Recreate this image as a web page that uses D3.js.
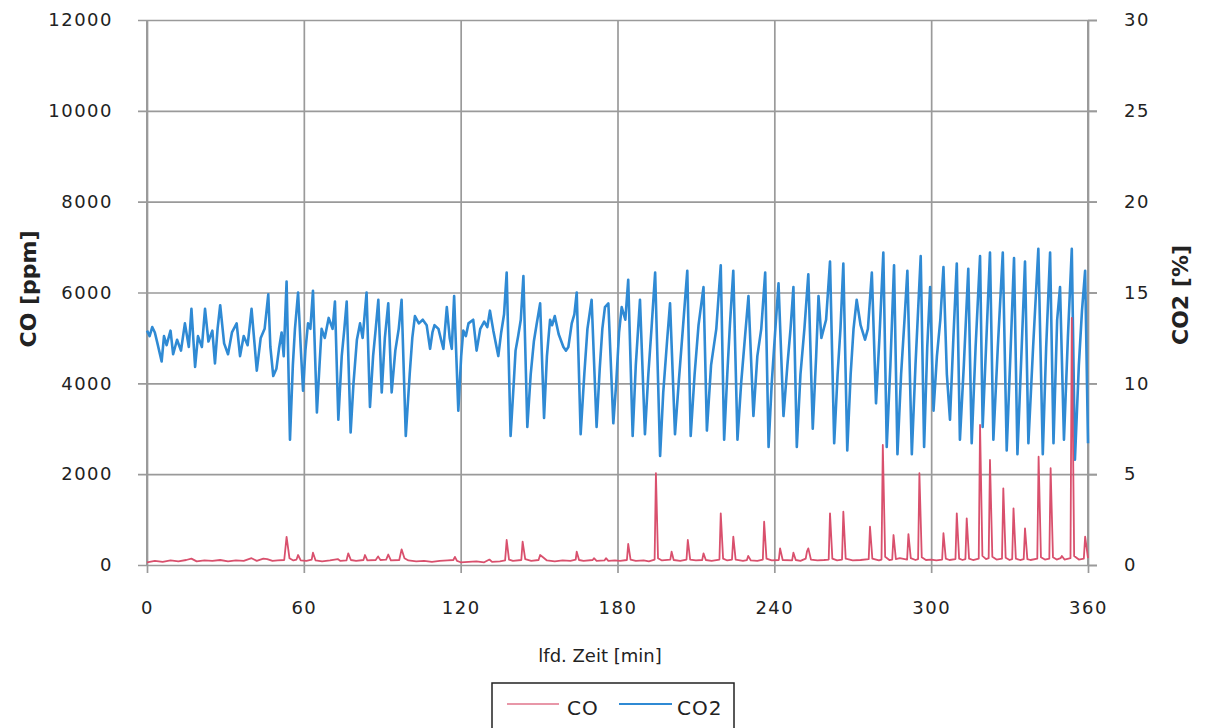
<!DOCTYPE html>
<html>
<head>
<meta charset="utf-8">
<script src="https://cdn.jsdelivr.net/npm/d3@7"></script>
<style>
	body { margin: 0; background: #fff; }
	text { font-family: "DejaVu Sans", sans-serif; fill: #222; }
	.tickLabel { font-size: 18px; letter-spacing: 1.5px; }
</style>
</head>
<body>
<svg id="gasGraph"></svg>
<script>
// time axis [min]
var xTicks = [0, 60, 120, 180, 240, 300, 360];
var coTicks = [0, 2000, 4000, 6000, 8000, 10000, 12000];
var co2Ticks = [0, 5, 10, 15, 20, 25, 30];

// CO2 [%] (minute, value)
var co2Time = [0, 1, 2, 3, 4, 5.6, 6.5, 7.5, 9, 10, 11.5, 13, 14.5, 16, 17, 18.4, 19.5, 21, 22.2, 23.5, 25, 26, 27, 28, 29.5, 31, 32.5, 34.3, 35.6, 37, 38.5, 40, 41, 42, 43.5, 45, 46.4, 47.2, 48.3, 49.5, 50.5, 51.5, 52.3,
	53.4, 54.7, 55.8, 56.6, 57.8, 58.8, 59.7, 60.6, 61.6, 62.5, 63.5, 65, 66, 66.8, 68, 69.5, 71, 71.9, 73.2, 74.5, 75.5, 76.4, 77.9, 79, 80.3, 81.5, 82.5, 84, 85.3, 86.5, 87.5, 88.5, 89.8, 91, 92.3, 93.6, 95, 96.3, 97.4, 99,
	100.5, 101.5, 102.5, 104, 105.5, 107, 108.3, 109.2, 110, 111.5, 112.5, 113.4, 114.7, 115.8, 116.6, 117.5, 119.1, 120.2, 121, 122, 123, 124.8, 126.1, 127.5, 129, 130.2, 131.2, 132.5, 134.4, 135.5, 136.6, 137.6, 139.1,
	140.3, 141, 142, 143, 144, 145.5, 146.8, 148, 149, 150.4, 151.9, 153, 154.2, 155, 156, 157.5, 159.3, 160.3, 161.2, 162.5, 163.5, 164.4, 165.9, 167.3, 168.5, 170.1, 172, 173.2, 174.2, 175.2, 176.5, 178.4, 179.5,
	180.6, 181.6, 183, 184.1, 185.8, 187, 188.6, 190.5, 191.8, 193, 194.4, 196.3, 197.5, 199, 200.1, 202, 203.5, 205, 206.7, 208, 209.5, 211, 212.9, 214.2, 215.8, 217.8, 219.5, 220.8, 222, 223, 224.3, 225.9, 227.3, 228.8,
	230.1, 232, 233.5, 235, 236.5, 237.8, 239, 240.3, 241.6, 243.5, 245, 246.2, 247.3, 248.6, 250, 251.5, 253, 254.7, 256, 256.9, 258, 259.8, 261.3, 262.9, 264.2, 265.3, 266.4, 267.9, 269.2, 270.3, 271.5, 273, 274.7,
	275.8, 277.3, 278.9, 280.2, 281.7, 283, 284.4, 285.8, 287.1, 288.5, 289.8, 290.9, 292.6, 294, 295, 296, 297.3, 298.5, 299.6, 300.9, 302.2, 303.5, 304.7, 306, 307.2, 308.5, 309.8, 311, 312.5, 314.2, 315.5, 317,
	318.7, 319.7, 321, 322.5, 323.8, 325.5, 327.4, 328.9, 330.3, 331.7, 333, 334.5, 335.9, 337.2, 339, 341, 342.7, 344, 345.5, 346.8, 348.2, 349.3, 350.8, 352.3, 353.8, 355, 356.5, 357.7, 358.9, 360];
var co2Values = [12.9, 12.6, 13.1, 12.8, 12.2, 11.2, 12.6, 12.1, 12.9, 11.6, 12.4, 11.8, 13.3, 12.0, 14.1, 10.9, 12.6, 12.0, 14.1, 12.3, 12.9, 11.1, 13.0, 14.3, 12.2, 11.6, 12.8, 13.3, 11.5, 12.6, 12.1, 14.1, 12.4, 10.7, 12.5, 13.0, 14.9, 12.0, 10.4, 10.8, 11.9, 12.8, 11.5,
	15.6, 6.9, 11.0, 13.0, 15.0, 12.0, 9.6, 11.8, 13.3, 13.0, 15.1, 8.4, 11.0, 13.0, 12.5, 13.6, 13.0, 14.5, 8.0, 11.5, 13.0, 14.5, 7.3, 10.0, 12.4, 13.3, 12.5, 15.0, 8.7, 11.5, 13.0, 14.6, 9.5, 12.5, 14.4, 9.5, 11.8, 13.0, 14.6, 7.1,
	10.5, 12.5, 13.7, 13.3, 13.5, 13.2, 11.9, 12.8, 13.2, 13.0, 12.4, 11.9, 14.2, 12.5, 11.9, 14.8, 8.5, 11.5, 12.9, 12.6, 13.3, 13.5, 11.8, 13.0, 13.4, 13.1, 14.0, 12.9, 11.5, 12.8, 13.8, 16.1, 7.1,
	10.0, 11.8, 12.6, 13.5, 15.9, 7.6, 10.5, 12.3, 13.2, 14.4, 8.1, 11.5, 13.5, 13.2, 13.7, 12.7, 12.0, 11.8, 12.0, 13.3, 13.8, 15.0, 7.2, 10.5, 13.0, 14.6, 7.6, 10.8, 13.0, 14.2, 14.4, 7.8, 10.0,
	12.8, 14.2, 13.5, 15.7, 7.1, 11.0, 14.6, 7.2, 10.5, 13.0, 16.1, 6.0, 9.5, 12.4, 14.4, 7.2, 10.2, 13.0, 16.2, 7.1, 10.5, 13.2, 15.3, 7.4, 11.0, 13.0, 16.5, 6.9, 10.5, 13.2, 16.2, 6.9, 10.0, 12.6,
	14.8, 8.2, 11.5, 13.0, 16.1, 6.5, 10.0, 12.8, 15.5, 8.2, 11.0, 13.0, 15.3, 6.5, 10.5, 13.0, 16.0, 7.5, 11.5, 14.8, 12.5, 13.5, 16.7, 6.7, 10.5, 13.0, 16.6, 6.3, 10.5, 13.0, 14.6, 13.2, 12.4,
	13.0, 16.1, 8.9, 12.5, 17.2, 6.5, 11.0, 16.5, 6.1, 10.5, 13.5, 16.2, 6.1, 11.0, 14.0, 17.0, 6.5, 12.0, 15.3, 8.5, 11.5, 13.5, 16.4, 10.5, 8.0, 12.5, 16.6, 6.9, 11.0, 16.3, 6.7, 12.0,
	17.0, 7.6, 12.0, 17.2, 6.9, 12.0, 17.2, 6.3, 11.5, 16.9, 6.1, 11.5, 16.7, 6.7, 12.0, 17.4, 6.1, 12.0, 17.2, 6.7, 13.5, 15.3, 6.9, 12.5, 17.4, 5.8, 11.0, 14.0, 16.2, 6.7];

// CO [ppm] (minute, value)
var coTime = [0, 3, 6, 9, 12, 15, 17, 19, 22, 25, 28, 31, 34, 37, 40, 42, 44.5, 46, 48, 50, 52.5, 53.4, 54.5, 56, 57.2, 57.8, 58.8, 61, 63, 63.5, 64.5, 67, 70, 73, 74, 76.3, 77, 78, 80, 82.8, 83.4, 84.3, 87.5, 88.4, 89.3,
	91.5, 92.3, 93.3, 96.5, 97.4, 98.5, 100, 103, 106, 109, 112, 115, 117.2, 117.8, 118.6, 120, 123, 126, 129, 131, 132, 135, 137, 137.6, 138.5, 140, 143.2, 143.7, 144.7, 147, 149.8, 150.4, 151.5, 153,
	156, 159, 162, 164, 164.4, 165.3, 167, 170.5, 171, 172, 175, 175.6, 176.5, 179, 181, 183.6, 184.1, 185, 187, 190, 192, 194.2, 194.7, 195.5, 197, 200.2, 200.7, 201.5, 204, 206.4, 206.9, 207.8, 210,
	212.4, 212.9, 213.8, 216, 219, 219.5, 220.4, 222, 223.8, 224.3, 225.2, 228, 229.5, 230, 231, 233.5, 235.6, 236.1, 237, 239, 241.7, 242.2, 243.2, 246.8, 247.3, 248.2, 250, 252, 252.5, 253, 254, 256.5,
	259, 260.8, 261.3, 262.2, 264, 265.9, 266.4, 267.3, 270, 273, 276.1, 276.6, 277.5, 280, 281, 281.5, 282.4, 284, 285.1, 285.6, 286.5, 288, 290.8, 291.3, 292.2, 294, 295, 295.5, 296.4, 298, 300, 302,
	304.2, 304.7, 305.6, 307, 309.3, 309.8, 310.7, 312, 313.1, 313.6, 314.5, 316, 318.2, 318.7, 319.6, 321, 322, 322.5, 323.4, 325, 327.1, 327.6, 328.5, 330, 331, 331.5, 332.4, 334, 335.4, 335.9, 336.8,
	338, 340.6, 341.1, 342, 343.5, 345.2, 345.7, 346.6, 348, 349.5, 350, 351, 353.3, 353.8, 354.7, 356.5, 358.4, 358.9, 360];
var coValues = [60, 90, 70, 100, 80, 110, 140, 80, 100, 90, 110, 80, 100, 90, 150, 90, 140, 130, 90, 100, 110, 620, 150, 100, 120, 220, 100, 90, 120, 270, 100, 80, 100, 130, 90, 100, 257, 110, 90, 110, 220, 100, 110, 190, 110,
	120, 230, 100, 110, 345, 150, 100, 80, 90, 70, 90, 100, 110, 180, 90, 60, 70, 80, 60, 120, 70, 80, 100, 550, 120, 90, 110, 513, 130, 90, 110, 220, 170, 100,
	80, 100, 90, 120, 293, 110, 90, 110, 150, 90, 100, 150, 90, 100, 90, 110, 462, 120, 90, 100, 80, 120, 2020, 150, 100, 120, 293, 110, 90, 120, 550, 120, 100,
	110, 257, 110, 90, 120, 1138, 140, 100, 120, 623, 120, 90, 110, 200, 100, 90, 120, 953, 140, 100, 110, 367, 110, 100, 270, 110, 90, 140, 300, 367, 120, 100,
	110, 120, 1138, 140, 100, 120, 1174, 140, 100, 110, 130, 843, 140, 100, 120, 2642, 180, 110, 120, 660, 130, 150, 120, 680, 150, 110, 130, 2020, 170, 110, 120, 100,
	120, 700, 140, 110, 130, 1138, 140, 110, 130, 1028, 140, 110, 140, 3083, 200, 130, 150, 2312, 180, 120, 140, 1688, 160, 110, 130, 1248, 140, 110, 130, 808, 130,
	110, 140, 2385, 170, 120, 140, 2130, 170, 120, 150, 200, 120, 150, 5440, 200, 120, 140, 623, 150];

class GasGraph {
	constructor(width, height) {
		this.margin = { top: 20, right: 119, bottom: 163, left: 147 };
		this.width = width - this.margin.left - this.margin.right;
		this.height = height - this.margin.top - this.margin.bottom;

		this.svg = d3.select("#gasGraph")
			.attr("width", width)
			.attr("height", height);
		this.container = this.svg.append("g")
			.attr("transform", "translate(" + this.margin.left + "," + this.margin.top + ")");

		this.xScale = d3.scaleLinear().domain([0, 360]).range([0, this.width]);
		this.coScale = d3.scaleLinear().domain([0, 12000]).range([this.height, 0]);
		this.co2Scale = d3.scaleLinear().domain([0, 30]).range([this.height, 0]);

		this.drawAxis();
		this.drawLines();
		this.drawLegend();
	}

	drawAxis() {
		var h = this.height, w = this.width;
		var fmt = d3.format("d");

		var xAxis = this.container.append("g")
			.attr("transform", "translate(0," + h + ")")
			.call(d3.axisBottom(this.xScale).tickValues(xTicks).tickFormat(fmt).tickSize(8).tickPadding(28));
		xAxis.selectAll(".tick line").attr("y1", -h).attr("y2", 8);

		var yAxis = this.container.append("g")
			.call(d3.axisLeft(this.coScale).tickValues(coTicks).tickFormat(fmt).tickSize(9).tickPadding(25));
		yAxis.selectAll(".tick line").attr("x2", w + 9).attr("x1", -9);

		var y2Axis = this.container.append("g")
			.attr("transform", "translate(" + w + ",0)")
			.call(d3.axisRight(this.co2Scale).tickValues(co2Ticks).tickFormat(fmt).tickSize(9).tickPadding(27));

		this.container.selectAll(".domain").attr("stroke", "#9a9a9a").attr("stroke-width", 2);
		this.container.selectAll(".tick line").attr("stroke", "#9a9a9a").attr("stroke-width", 1.7);
		this.container.selectAll(".tick text").attr("class", "tickLabel").attr("fill", "#222");
		xAxis.selectAll(".domain").remove();
		y2Axis.selectAll(".domain").attr("d", "M0,0V" + h);
		yAxis.selectAll(".domain").attr("d", "M0,0V" + h);

		this.svg.append("text")
			.attr("transform", "translate(36,289) rotate(-90)")
			.attr("text-anchor", "middle")
			.style("font-size", "22px").style("font-weight", "bold")
			.text("CO [ppm]");
		this.svg.append("text")
			.attr("transform", "translate(1188,295) rotate(-90)")
			.attr("text-anchor", "middle")
			.style("font-size", "22px").style("font-weight", "bold")
			.text("CO2 [%]");
		this.svg.append("text")
			.attr("x", 600).attr("y", 662)
			.attr("text-anchor", "middle")
			.style("font-size", "18px")
			.text("lfd. Zeit [min]");
	}

	drawLines() {
		var co2Line = d3.line()
			.x(function(d) { return this.xScale(d[0]); }.bind(this))
			.y(function(d) { return this.co2Scale(d[1]); }.bind(this));
		var coLine = d3.line()
			.x(function(d) { return this.xScale(d[0]); }.bind(this))
			.y(function(d) { return this.coScale(d[1]); }.bind(this));

		this.container.append("path")
			.datum(d3.zip(co2Time, co2Values))
			.attr("d", co2Line)
			.attr("fill", "none")
			.attr("stroke", "#2f8ad4")
			.attr("stroke-width", 2.6)
			.attr("stroke-linejoin", "round");

		this.container.append("path")
			.datum(d3.zip(coTime, coValues))
			.attr("d", coLine)
			.attr("fill", "none")
			.attr("stroke", "#d9506d")
			.attr("stroke-width", 1.8)
			.attr("stroke-linejoin", "round");
	}

	drawLegend() {
		var legend = this.svg.append("g");
		legend.append("rect")
			.attr("x", 492).attr("y", 683).attr("width", 242).attr("height", 60)
			.attr("fill", "#fff").attr("stroke", "#222").attr("stroke-width", 1.5);
		legend.append("line").attr("x1", 507).attr("x2", 559).attr("y1", 704).attr("y2", 704)
			.attr("stroke", "#e0758b").attr("stroke-width", 1.5);
		legend.append("text").attr("x", 567).attr("y", 715)
			.style("font-size", "20px").style("letter-spacing", "1px").text("CO");
		legend.append("line").attr("x1", 619).attr("x2", 672).attr("y1", 704).attr("y2", 704)
			.attr("stroke", "#2f8ad4").attr("stroke-width", 2);
		legend.append("text").attr("x", 677).attr("y", 715)
			.style("font-size", "20px").style("letter-spacing", "1px").text("CO2");
	}
}

var graph = new GasGraph(1207, 728);
</script>
</body>
</html>
